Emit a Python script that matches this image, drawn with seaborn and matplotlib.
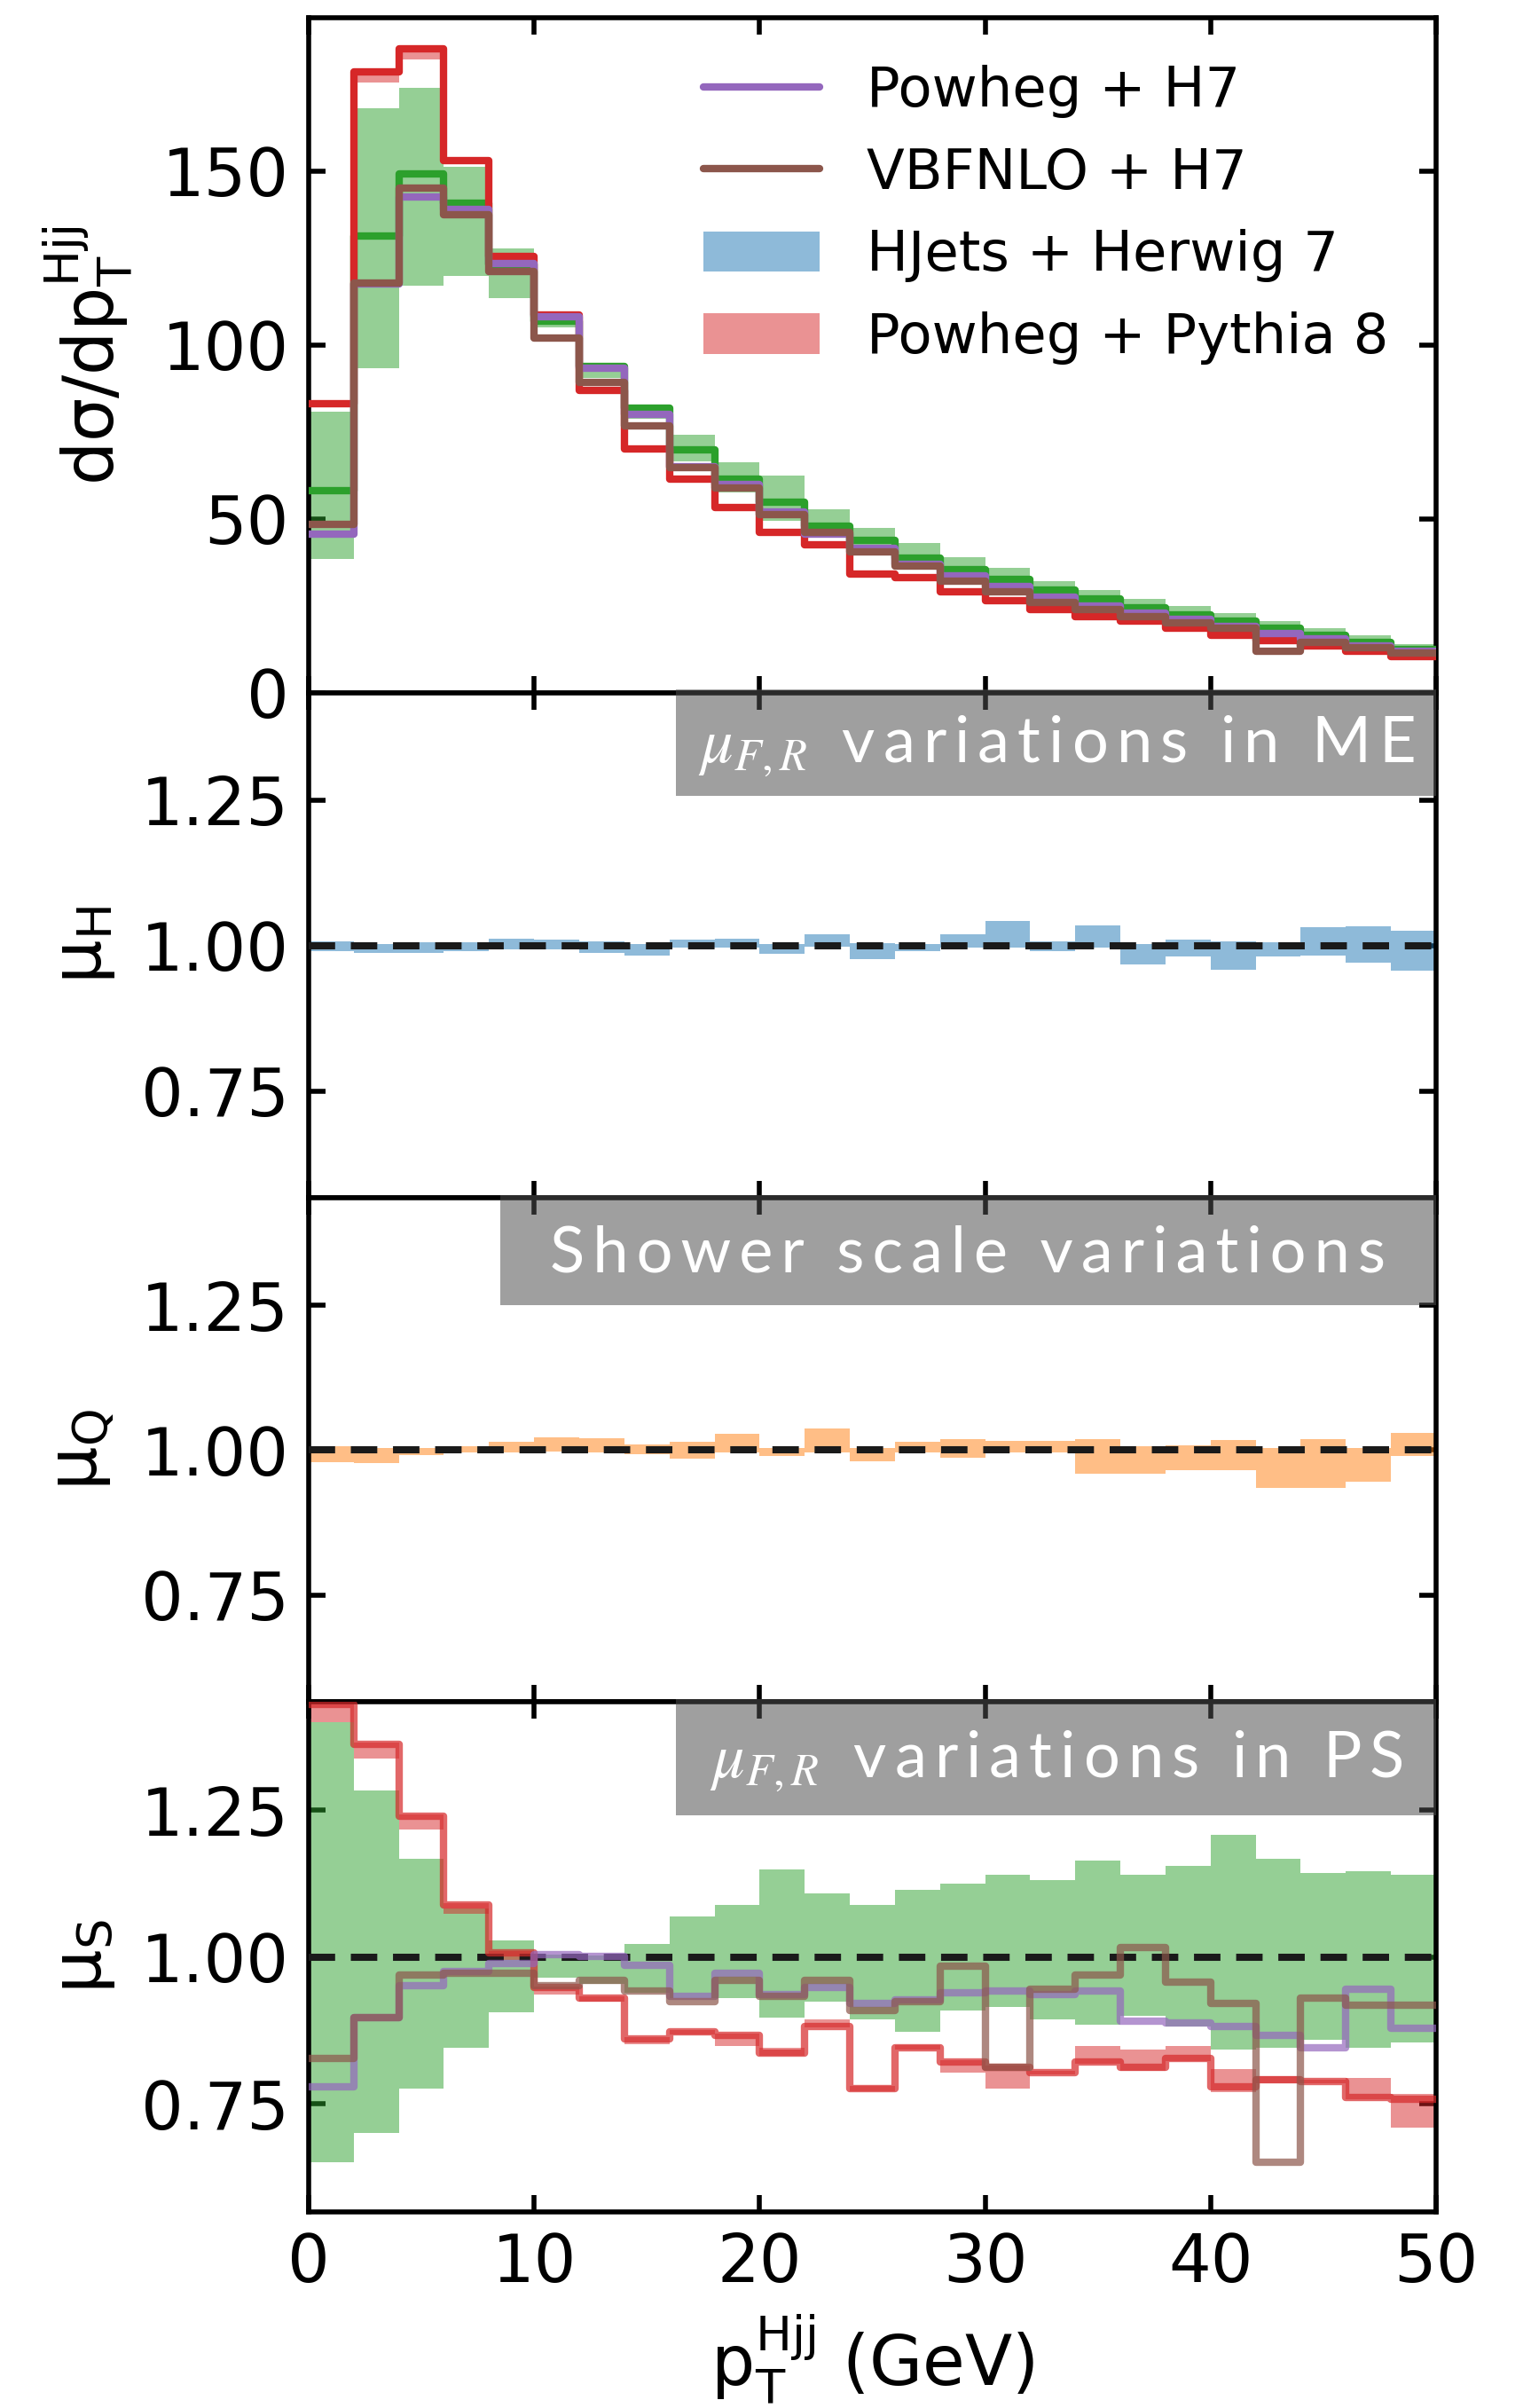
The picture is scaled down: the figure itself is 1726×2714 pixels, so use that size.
import numpy as np
import matplotlib
matplotlib.use("Agg")
import matplotlib.pyplot as plt
import seaborn as sns
from matplotlib.patches import Rectangle, Patch
from matplotlib.lines import Line2D
from matplotlib.ticker import FormatStrFormatter

# ---------------- data ----------------
bin_edges = np.arange(0, 52, 2)  # pT^Hjj bins (GeV)

# top panel: dsigma/dpT
xs_powheg_h7 = [45.6, 117.5, 142.4, 139.0, 123.3, 108.0, 93.2, 80.0, 65.1, 60.0, 52.0, 45.6, 41.4,
                37.0, 33.5, 30.5, 27.5, 25.0, 23.0, 21.0, 19.0, 17.0, 15.5, 13.5, 12.0]
xs_vbfnlo_h7 = [48.4, 117.8, 145.0, 137.3, 121.2, 102.0, 89.3, 76.6, 64.7, 58.8, 51.1, 46.0, 40.5,
                36.3, 32.0, 29.0, 26.0, 24.0, 22.0, 20.0, 18.5, 12.0, 14.5, 13.0, 11.5]
xs_hjets = [58.2, 131.4, 149.2, 140.7, 123.0, 106.7, 93.7, 81.7, 69.8, 61.3, 54.8, 48.0, 43.7,
            38.8, 35.5, 32.5, 29.5, 27.0, 24.5, 22.5, 20.5, 18.5, 16.5, 14.5, 12.5]
xs_hjets_lo = [38.4, 93.2, 117.0, 119.9, 113.5, 105.0, 90.6, 78.7, 66.4, 57.5, 49.4, 44.8, 40.9,
               36.0, 32.0, 29.0, 26.0, 24.0, 22.0, 20.0, 18.0, 16.0, 14.5, 13.0, 11.0]
xs_hjets_hi = [80.9, 167.9, 173.9, 151.3, 127.6, 109.0, 93.6, 82.5, 74.2, 66.2, 62.3, 52.7, 47.3,
               43.0, 39.0, 36.0, 32.0, 29.5, 27.0, 25.0, 23.0, 20.5, 18.5, 16.5, 14.0]
xs_pythia = [83.0, 178.5, 185.0, 153.0, 125.4, 108.5, 86.8, 70.2, 61.3, 53.2, 46.0, 42.6, 34.1,
             33.1, 29.0, 26.5, 24.0, 22.0, 20.5, 18.5, 16.5, 15.0, 13.5, 12.0, 10.5]
xs_pythia_lo = [82.0, 175.5, 182.0, 152.0, 124.5, 107.5, 86.0, 69.5, 60.5, 52.5, 45.5, 42.0, 33.5,
                32.5, 28.5, 26.0, 23.5, 21.5, 20.0, 18.0, 16.0, 14.5, 13.0, 11.5, 10.0]
xs_pythia_hi = [83.5, 179.0, 185.5, 153.5, 125.8, 108.9, 87.2, 70.6, 61.7, 53.6, 46.4, 43.0, 34.5,
                33.5, 29.4, 26.9, 24.4, 22.4, 20.9, 18.9, 16.9, 15.4, 13.9, 12.4, 10.9]

# mu_H panel (HJets, ME scale variations)
muH_lo = [0.990, 0.987, 0.987, 0.990, 0.994, 0.994, 0.988, 0.983, 0.997, 0.997, 0.986, 0.998, 0.977,
          0.990, 0.997, 0.997, 0.991, 0.997, 0.967, 0.981, 0.959, 0.981, 0.983, 0.971, 0.957]
muH_hi = [1.007, 1.003, 1.005, 1.005, 1.012, 1.011, 1.007, 1.003, 1.011, 1.012, 1.003, 1.019, 1.004,
          1.003, 1.019, 1.042, 1.007, 1.034, 1.002, 1.011, 1.007, 1.005, 1.031, 1.033, 1.025]

# mu_Q panel (shower scale variations)
muQ_lo = [0.979, 0.977, 0.991, 0.996, 0.996, 0.998, 0.996, 0.993, 0.985, 0.996, 0.990, 0.996, 0.980,
          0.996, 0.987, 0.996, 0.996, 0.960, 0.960, 0.965, 0.965, 0.935, 0.935, 0.945, 0.990]
muQ_hi = [1.006, 1.004, 1.004, 1.006, 1.015, 1.022, 1.021, 1.010, 1.015, 1.028, 1.004, 1.038, 1.004,
          1.014, 1.019, 1.016, 1.016, 1.019, 1.006, 1.009, 1.017, 1.004, 1.019, 1.004, 1.030]

# mu_S panel (muF,R variations in PS)
muS_hjets_lo = [0.650, 0.701, 0.776, 0.846, 0.906, 0.965, 0.955, 0.940, 0.930, 0.930, 0.897, 0.924,
                0.894, 0.873, 0.909, 0.915, 0.894, 0.885, 0.900, 0.882, 0.843, 0.846, 0.860, 0.846, 0.855]
muS_hjets_hi = [1.401, 1.284, 1.168, 1.083, 1.029, 1.005, 1.003, 1.023, 1.070, 1.089, 1.150, 1.109,
                1.089, 1.114, 1.125, 1.140, 1.132, 1.164, 1.140, 1.155, 1.208, 1.168, 1.144, 1.146, 1.140]
muS_pythia = [1.430, 1.362, 1.240, 1.089, 1.008, 0.948, 0.930, 0.861, 0.873, 0.867, 0.837, 0.882,
              0.776, 0.846, 0.822, 0.813, 0.803, 0.822, 0.813, 0.828, 0.779, 0.791, 0.788, 0.761, 0.758]
muS_pythia_lo = [1.400, 1.338, 1.218, 1.074, 0.995, 0.936, 0.925, 0.852, 0.868, 0.849, 0.832, 0.880,
                 0.772, 0.843, 0.803, 0.776, 0.800, 0.819, 0.806, 0.823, 0.770, 0.786, 0.785, 0.758, 0.710]
muS_pythia_hi = [1.440, 1.365, 1.243, 1.092, 1.010, 0.950, 0.933, 0.864, 0.876, 0.870, 0.845, 0.894,
                 0.780, 0.850, 0.825, 0.816, 0.806, 0.849, 0.843, 0.849, 0.809, 0.797, 0.791, 0.794, 0.767]
muS_powheg_h7 = [0.779, 0.897, 0.951, 0.975, 0.990, 1.005, 1.002, 0.987, 0.933, 0.972, 0.936, 0.948,
                 0.921, 0.927, 0.939, 0.942, 0.936, 0.942, 0.891, 0.888, 0.882, 0.867, 0.846, 0.945, 0.879]
muS_vbfnlo_h7 = [0.828, 0.897, 0.969, 0.972, 0.972, 0.951, 0.960, 0.942, 0.924, 0.960, 0.933, 0.961,
                 0.909, 0.924, 0.984, 0.813, 0.945, 0.969, 1.017, 0.957, 0.921, 0.650, 0.930, 0.918, 0.918]

# ---------------- style ----------------
sns.set_theme(style="ticks")
plt.rcParams["font.family"] = ["DejaVu Sans"]
plt.rcParams["mathtext.fontset"] = "dejavusans"
plt.rcParams["axes.linewidth"] = 2.0
for key in ("text.color", "axes.labelcolor", "xtick.color", "ytick.color", "axes.edgecolor"):
    plt.rcParams[key] = "black"

C_PURPLE = "tab:purple"
C_BROWN = "tab:brown"
C_GREEN = "tab:green"
C_RED = "tab:red"
C_BLUE = "tab:blue"
C_ORANGE = "tab:orange"

fig = plt.figure(figsize=(8.63, 13.57), dpi=200)
gs = fig.add_gridspec(4, 1, height_ratios=[760.7, 569.3, 568, 575], hspace=0,
                      left=0.2016, right=0.938, top=0.9926, bottom=0.0814)
ax1 = fig.add_subplot(gs[0])
ax2 = fig.add_subplot(gs[1], sharex=ax1)
ax3 = fig.add_subplot(gs[2], sharex=ax1)
ax4 = fig.add_subplot(gs[3], sharex=ax1)
axes = [ax1, ax2, ax3, ax4]


def step(ax, vals, color, lw=3.0, alpha=1.0, z=3):
    y = np.append(np.asarray(vals, float), vals[-1])
    sns.lineplot(x=bin_edges, y=y, drawstyle="steps-post", color=color, lw=lw,
                 alpha=alpha, ax=ax, legend=False, zorder=z, estimator=None, sort=False)


def band(ax, lo, hi, color, alpha=0.5, z=1):
    ax.stairs(hi, bin_edges, baseline=lo, fill=True, color=color, alpha=alpha, lw=0, zorder=z)


def spaced(s):
    return "\u2009".join(s)


def label_box(ax, x0, y0, math, text):
    rect = Rectangle((x0, y0), 1 - x0, 1.006 - y0, transform=ax.transAxes,
                     facecolor="#4f4f4f", alpha=0.54, lw=0, zorder=10, clip_on=False)
    ax.add_patch(rect)
    s = (math + "\u2009" if math else "") + spaced(text)
    ax.text((x0 + 1) / 2, (y0 + 1) / 2 - 0.005, s, transform=ax.transAxes, ha="center",
            va="center", color="white", fontsize=26, family=["Lato", "DejaVu Sans"],
            math_fontfamily="stix", zorder=11)


# top panel
band(ax1, xs_hjets_lo, xs_hjets_hi, C_GREEN)
band(ax1, xs_pythia_lo, xs_pythia_hi, C_RED)
step(ax1, xs_hjets, C_GREEN)
step(ax1, xs_pythia, C_RED)
step(ax1, xs_powheg_h7, C_PURPLE)
step(ax1, xs_vbfnlo_h7, C_BROWN)
ax1.set_ylim(0, 194)
ax1.set_yticks([0, 50, 100, 150])
ax1.set_ylabel(r"$\mathrm{d\sigma/dp_T^{Hjj}}$", fontsize=28)

handles = [Line2D([], [], color=C_PURPLE, lw=3),
           Line2D([], [], color=C_BROWN, lw=3),
           Patch(facecolor=C_BLUE, alpha=0.5, lw=0),
           Patch(facecolor=C_RED, alpha=0.5, lw=0)]
labels = ["Powheg + H7", "VBFNLO + H7", "HJets + Herwig 7", "Powheg + Pythia 8"]
ax1.legend(handles, labels, loc="upper right", frameon=False, fontsize=22.5,
           handlelength=2.1, handleheight=0.75, labelspacing=0.52, handletextpad=0.85,
           borderaxespad=0.45)

# mu_H panel
band(ax2, muH_lo, muH_hi, C_BLUE)
ax2.axhline(1.0, color="k", lw=2.9, ls=(0, (3.7, 2.2)), zorder=4)
ax2.set_ylabel(r"$\mathrm{\mu_H}$", fontsize=28)
label_box(ax2, 0.326, 0.796, r"$\mu_{F,R}$", " variations in ME")

# mu_Q panel
band(ax3, muQ_lo, muQ_hi, C_ORANGE)
ax3.axhline(1.0, color="k", lw=2.9, ls=(0, (3.7, 2.2)), zorder=4)
ax3.set_ylabel(r"$\mathrm{\mu_Q}$", fontsize=28)
label_box(ax3, 0.170, 0.787, "", "Shower scale variations")

# mu_S panel
band(ax4, muS_hjets_lo, muS_hjets_hi, C_GREEN)
band(ax4, muS_pythia_lo, muS_pythia_hi, C_RED, z=2)
ax4.axhline(1.0, color="k", lw=2.9, ls=(0, (3.7, 2.2)), zorder=3)
step(ax4, muS_pythia, C_RED, alpha=0.7, z=4)
step(ax4, muS_powheg_h7, C_PURPLE, alpha=0.7, z=5)
step(ax4, muS_vbfnlo_h7, C_BROWN, alpha=0.7, z=6)
ax4.set_ylabel(r"$\mathrm{\mu_S}$", fontsize=28)
label_box(ax4, 0.326, 0.777, r"$\mu_{F,R}$", " variations in PS")

for ax in (ax2, ax3, ax4):
    ax.set_ylim(0.566, 1.435)
    ax.set_yticks([0.75, 1.00, 1.25])
    ax.yaxis.set_major_formatter(FormatStrFormatter("%.2f"))

for i, ax in enumerate(axes):
    ax.set_xlim(0, 50)
    ax.set_xticks([0, 10, 20, 30, 40, 50])
    ax.tick_params(axis="both", which="major", direction="in", length=7, width=2.0,
                   top=True, right=True, labelsize=27, pad=8, colors="black")
    for sp in ax.spines.values():
        sp.set_linewidth(2.0)
        sp.set_visible(True)
        sp.set_edgecolor("black")
    if i < 3:
        ax.tick_params(axis="x", labelbottom=False)
        ax.set_xlabel("")
    ax.yaxis.set_label_coords(-0.155 if i == 0 else -0.17, 0.5)

ax4.set_xlabel(r"$\mathrm{p_T^{Hjj}}$ (GeV)", fontsize=28, labelpad=6)

fig.savefig("out.png", dpi=200)
